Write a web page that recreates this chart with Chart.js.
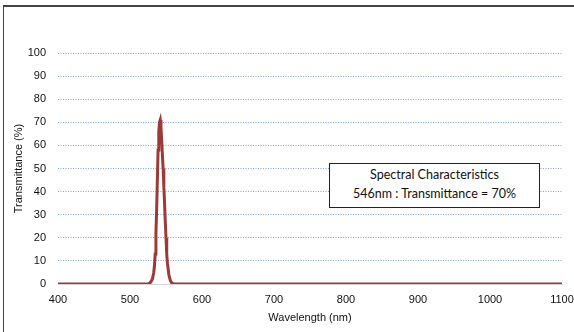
<!DOCTYPE html>
<html>
<head>
<meta charset="utf-8">
<script src="https://cdn.jsdelivr.net/npm/chart.js@4/dist/chart.umd.min.js"></script>
<style>
  html, body { margin: 0; padding: 0; background: #fff; }
  #wrap { position: relative; width: 574px; height: 332px; overflow: hidden; }
  #frame {
    position: absolute; left: 3px; top: 5px; width: 600px; height: 400px;
    border-left: 1.5px solid #444; border-top: 2px solid #444;
  }
  #note {
    position: absolute; left: 329px; top: 163px; width: 211px; height: 45px;
    border: 1px solid #222; background: #fff; box-sizing: border-box;
    font-family: Lato, "Noto Sans", sans-serif; font-size: 12.5px; color: #111;
    text-align: center; line-height: 19px; padding-top: 1px;
  }
  canvas { position: absolute; left: 0; top: 0; }
</style>
</head>
<body>
<div id="wrap">
  <div id="frame"></div>
  <canvas id="chart" width="574" height="332"></canvas>
  <div id="note">Spectral Characteristics<br>546nm : Transmittance = 70%</div>
</div>
<script>
// --- Data ---
const wavelengths = [400, 450, 500, 515, 525, 528, 531, 533, 534, 535, 536, 537, 538, 539, 540, 541, 542,
  543, 544, 545, 546, 547, 548, 549, 550, 551, 552, 554, 556, 558, 561, 600, 700, 800, 900, 1000, 1100];
const transmittance = [0, 0, 0, 0, 0, 0.5, 2, 5, 8, 13, 22, 32, 45, 58, 66, 70, 71,
  68, 62, 56, 50, 42, 35, 27, 20, 13, 9, 4, 1.5, 0.4, 0, 0, 0, 0, 0, 0, 0];
const yTicks = [0, 10, 20, 30, 40, 50, 60, 70, 80, 90, 100];
const xTicks = [400, 500, 600, 700, 800, 900, 1000, 1100];

const points = wavelengths.map((w, i) => ({ x: w, y: transmittance[i] }));
const tickFont = { family: "'Liberation Sans', Arial, sans-serif", size: 11 };

new Chart(document.getElementById("chart"), {
  type: "line",
  data: {
    datasets: [
      {
        label: "Transmittance",
        data: points,
        borderColor: "#9c3a38",
        borderWidth: 3,
        pointRadius: 0,
        tension: 0,
        fill: false,
      },
    ],
  },
  options: {
    responsive: false,
    animation: false,
    layout: { padding: { top: 53, left: 12, right: 0, bottom: 7 } },
    plugins: { legend: { display: false }, tooltip: { enabled: false } },
    scales: {
      x: {
        type: "linear",
        min: 400,
        max: 1100,
        afterBuildTicks: (axis) => { axis.ticks = xTicks.map((v) => ({ value: v })); },
        afterFit: (axis) => { axis.height = 41; axis.paddingRight = 12; },
        grid: { display: false, drawTicks: false },
        border: { display: true, color: "#d4d4d4", width: 1 },
        ticks: { color: "#111", font: tickFont, padding: 9, maxRotation: 0, callback: (v) => String(v) },
        title: {
          display: true,
          text: "Wavelength (nm)",
          color: "#111",
          font: tickFont,
          padding: { top: 0, bottom: 0 },
        },
      },
      y: {
        min: 0,
        max: 100,
        afterBuildTicks: (axis) => { axis.ticks = yTicks.map((v) => ({ value: v })); },
        afterFit: (axis) => { axis.width = 46; },
        grid: {
          color: "#7fa6d6",
          lineWidth: 1,
          drawTicks: false,
        },
        border: { display: false, dash: [1, 1.5] },
        ticks: { color: "#111", font: tickFont, padding: 12 },
        title: {
          display: true,
          text: "Transmittance (%)",
          color: "#111",
          font: tickFont,
          padding: { top: 0, bottom: 0 },
        },
      },
    },
  },
});
</script>
</body>
</html>
